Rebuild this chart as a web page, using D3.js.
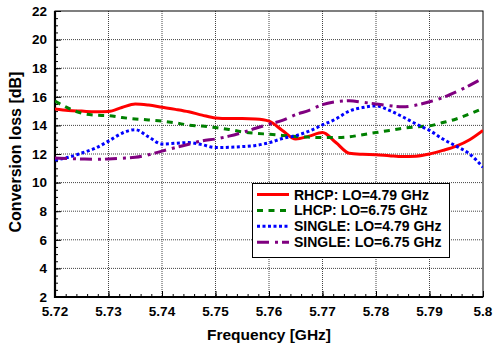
<!DOCTYPE html>
<html>
<head>
<meta charset="utf-8">
<script src="https://cdn.jsdelivr.net/npm/d3@7"></script>
<style>
  body { margin: 0; background: #fff; }
  text { font-family: "Liberation Sans", Arial, sans-serif; font-weight: bold; fill: #000; }
</style>
</head>
<body>
<div id="chart"></div>
<script>
// frequencies in GHz
const freq = [5.72, 5.7225, 5.725, 5.7275, 5.73, 5.7325, 5.735, 5.7375, 5.74, 5.7425, 5.745,
    5.7475, 5.75, 5.7525, 5.755, 5.7575, 5.76, 5.7625, 5.765, 5.7675, 5.77, 5.7725, 5.775,
    5.7775, 5.78, 5.7825, 5.785, 5.7875, 5.79, 5.7925, 5.795, 5.7975, 5.80];

const rhcp479 = [15.15, 15.05, 15.0, 14.95, 14.97, 15.25, 15.5, 15.42, 15.27, 15.12, 14.95,
    14.72, 14.52, 14.48, 14.48, 14.45, 14.3, 13.65, 13.05, 13.25, 13.5, 12.8, 12.05,
    11.98, 11.95, 11.88, 11.82, 11.85, 12.0, 12.25, 12.55, 13.0, 13.65];

const lhcp675 = [15.7, 15.2, 14.85, 14.72, 14.68, 14.55, 14.45, 14.38, 14.3, 14.18, 14.02,
    13.95, 13.85, 13.72, 13.55, 13.45, 13.38, 13.3, 13.22, 13.18, 13.15, 13.15, 13.2,
    13.35, 13.5, 13.65, 13.8, 13.9, 13.97, 14.2, 14.45, 14.8, 15.2];

const single479 = [11.58, 11.77, 12.07, 12.4, 12.9, 13.45, 13.7, 13.2, 12.7, 12.75, 12.8,
    12.65, 12.45, 12.47, 12.52, 12.6, 12.79, 13.08, 13.28, 13.6, 14.03, 14.45, 15.0,
    15.25, 15.36, 15.05, 14.6, 14.1, 13.65, 13.05, 12.55, 12.0, 11.07];

const single675 = [11.72, 11.68, 11.65, 11.63, 11.65, 11.7, 11.77, 11.95, 12.2, 12.45, 12.68,
    12.92, 13.05, 13.25, 13.5, 13.8, 14.08, 14.35, 14.75, 15.05, 15.45, 15.65, 15.72,
    15.62, 15.5, 15.38, 15.3, 15.42, 15.65, 15.95, 16.35, 16.8, 17.3];

const seriesNames = ['RHCP: LO=4.79 GHz', 'LHCP: LO=6.75 GHz', 'SINGLE: LO=4.79 GHz', 'SINGLE: LO=6.75 GHz'];
const seriesValues = [rhcp479, lhcp675, single479, single675];
const seriesColors = ['#ff0000', '#008000', '#0000ff', '#800080'];
const seriesDash = [null, '6,5.5', '3,2.5', '12,6,3,4'];

const xTicks = [5.72, 5.73, 5.74, 5.75, 5.76, 5.77, 5.78, 5.79, 5.8];
const yTicks = [2, 4, 6, 8, 10, 12, 14, 16, 18, 20, 22];

const w = 496, h = 352;
const plot = { left: 55, right: 483, top: 11, bottom: 297 };

const svg = d3.select('#chart')
    .append('svg')
    .attr('width', w)
    .attr('height', h);

const x = d3.scaleLinear().domain([5.72, 5.80]).range([plot.left, plot.right]);
const y = d3.scaleLinear().domain([2, 22]).range([plot.bottom, plot.top]);

// grid
svg.append('g')
    .selectAll('line')
    .data(xTicks.slice(1, -1))
    .enter()
    .append('line')
    .attr('x1', d => x(d)).attr('x2', d => x(d))
    .attr('y1', plot.top).attr('y2', plot.bottom)
    .attr('stroke', '#444').attr('stroke-width', 1).attr('stroke-dasharray', '1,1');

svg.append('g')
    .selectAll('line')
    .data(yTicks.slice(1, -1))
    .enter()
    .append('line')
    .attr('x1', plot.left).attr('x2', plot.right)
    .attr('y1', d => y(d)).attr('y2', d => y(d))
    .attr('stroke', '#444').attr('stroke-width', 1).attr('stroke-dasharray', '1,1');

// minor + major ticks, pointing inward
const xAxis = d3.axisTop(x).tickValues(d3.range(5.72, 5.8001, 0.002)).tickSize(3).tickFormat('').tickSizeOuter(0);
svg.append('g')
    .attr('transform', `translate(0, ${plot.bottom})`)
    .call(xAxis)
    .call(g => g.select('.domain').remove())
    .selectAll('line').attr('stroke', '#000').attr('stroke-width', 1);

svg.append('g')
    .attr('transform', `translate(0, ${plot.bottom})`)
    .call(d3.axisTop(x).tickValues(xTicks).tickSize(6).tickFormat('').tickSizeOuter(0))
    .call(g => g.select('.domain').remove())
    .selectAll('line').attr('stroke', '#000').attr('stroke-width', 1);

svg.append('g')
    .attr('transform', `translate(${plot.left}, 0)`)
    .call(d3.axisRight(y).tickValues(d3.range(2, 22.01, 0.5)).tickSize(3).tickFormat('').tickSizeOuter(0))
    .call(g => g.select('.domain').remove())
    .selectAll('line').attr('stroke', '#000').attr('stroke-width', 1);

svg.append('g')
    .attr('transform', `translate(${plot.left}, 0)`)
    .call(d3.axisRight(y).tickValues(yTicks).tickSize(6).tickFormat('').tickSizeOuter(0))
    .call(g => g.select('.domain').remove())
    .selectAll('line').attr('stroke', '#000').attr('stroke-width', 1);

// tick labels
svg.append('g')
    .selectAll('text')
    .data(xTicks)
    .enter()
    .append('text')
    .attr('x', d => x(d))
    .attr('y', 316)
    .attr('text-anchor', 'middle')
    .style('font-size', '13.5px')
    .text(d => d === 5.8 ? '5.8' : d.toFixed(2));

svg.append('g')
    .selectAll('text')
    .data(yTicks)
    .enter()
    .append('text')
    .attr('x', 47)
    .attr('y', d => y(d))
    .attr('dy', '0.36em')
    .attr('text-anchor', 'end')
    .style('font-size', '13.5px')
    .text(d => d);

// frame
svg.append('rect')
    .attr('x', plot.left).attr('y', plot.top)
    .attr('width', plot.right - plot.left).attr('height', plot.bottom - plot.top)
    .attr('fill', 'none').attr('stroke', '#000').attr('stroke-width', 1);

svg.append('path')
    .attr('d', `M${plot.left},${plot.top}V${plot.bottom}H${plot.right}`)
    .attr('fill', 'none').attr('stroke', '#000').attr('stroke-width', 2.2);

// curves
svg.append('clipPath').attr('id', 'clip')
    .append('rect')
    .attr('x', plot.left).attr('y', plot.top)
    .attr('width', plot.right - plot.left).attr('height', plot.bottom - plot.top);

const line = d3.line()
    .x((d, i) => x(freq[i]))
    .y(d => y(d))
    .curve(d3.curveMonotoneX);

const curves = svg.append('g').attr('clip-path', 'url(#clip)');
seriesValues.forEach((vals, i) => {
    curves.append('path')
        .datum(vals)
        .attr('d', line)
        .attr('fill', 'none')
        .attr('stroke', seriesColors[i])
        .attr('stroke-width', 3)
        .attr('stroke-dasharray', seriesDash[i]);
});

// legend
const legend = svg.append('g').attr('id', 'legend');
legend.append('rect')
    .attr('x', 252.5).attr('y', 183.5)
    .attr('width', 197).attr('height', 74)
    .attr('fill', '#fff').attr('stroke', '#000').attr('stroke-width', 1);

seriesNames.forEach((name, i) => {
    const ly = 194.5 + i * 15.9;
    legend.append('line')
        .attr('x1', 257).attr('x2', 289)
        .attr('y1', ly).attr('y2', ly)
        .attr('stroke', seriesColors[i])
        .attr('stroke-width', 3)
        .attr('stroke-dasharray', seriesDash[i]);
    legend.append('text')
        .attr('x', 294)
        .attr('y', ly)
        .attr('dy', '0.36em')
        .style('font-size', '14px')
        .text(name);
});

// axis titles
svg.append('text')
    .attr('x', (plot.left + plot.right) / 2)
    .attr('y', 340)
    .attr('text-anchor', 'middle')
    .style('font-size', '15.5px')
    .text('Frequency [GHz]');

svg.append('text')
    .attr('transform', `translate(21, 152) rotate(-90)`)
    .attr('text-anchor', 'middle')
    .style('font-size', '16px')
    .text('Conversion loss [dB]');
</script>
</body>
</html>
